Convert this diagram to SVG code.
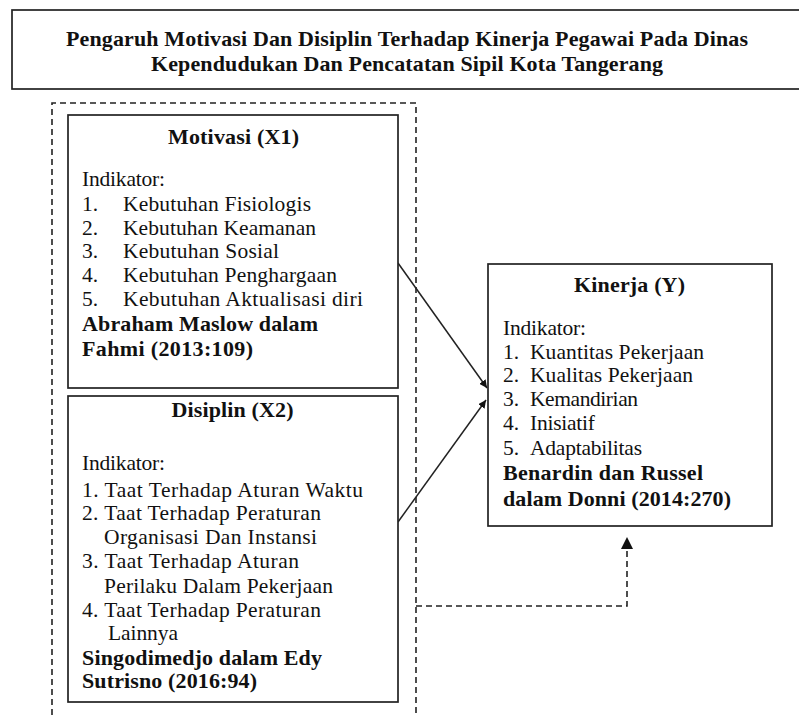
<svg xmlns="http://www.w3.org/2000/svg" width="799" height="715" viewBox="0 0 799 715">
<defs>
<style>
.box{fill:#fff;stroke:#222;stroke-width:1.7}
.dash{fill:none;stroke:#222;stroke-width:1.6;stroke-dasharray:6 4}
.ln{fill:none;stroke:#222;stroke-width:1.5}
text{font-family:'Liberation Serif','Times New Roman',serif;font-size:21.5px;fill:#111}
.b{font-weight:bold;font-size:22px}
.c{text-anchor:middle}
</style>
<marker id="ah" viewBox="0 0 10 10" refX="10" refY="5" markerWidth="8" markerHeight="8" orient="auto" markerUnits="userSpaceOnUse">
<path d="M0,0 L10,5 L0,10 z" fill="#111"/>
</marker>
</defs>
<rect width="799" height="715" fill="#fff"/>
<g id="title">
<rect class="box" x="12" y="10" width="792" height="79"/>
<text class="b c" x="407" y="46" textLength="682" lengthAdjust="spacing">Pengaruh Motivasi Dan Disiplin Terhadap Kinerja Pegawai Pada Dinas</text>
<text class="b c" x="407" y="71" textLength="512" lengthAdjust="spacing">Kependudukan Dan Pencatatan Sipil Kota Tangerang</text>
</g>
<g id="connectors">
<path class="dash" d="M52,715 V103 H416 V715"/>
<path class="dash" d="M416,606 H627 V548"/>
<path d="M621,549 L627,537 L633,549 z" fill="#111"/>
<line class="ln" x1="398" y1="263" x2="487" y2="388" marker-end="url(#ah)"/>
<line class="ln" x1="398" y1="522" x2="486" y2="400" marker-end="url(#ah)"/>
</g>
<g id="motivasi">
<rect class="box" x="68" y="115" width="330" height="273"/>
<text class="b c" x="233.5" y="144" textLength="131" lengthAdjust="spacing">Motivasi (X1)</text>
<text x="82" y="186" textLength="83" lengthAdjust="spacing">Indikator:</text>
<text x="82" y="211">1.</text><text x="123" y="211" textLength="188" lengthAdjust="spacing">Kebutuhan Fisiologis</text>
<text x="82" y="235">2.</text><text x="123" y="235" textLength="193" lengthAdjust="spacing">Kebutuhan Keamanan</text>
<text x="82" y="258">3.</text><text x="123" y="258" textLength="156" lengthAdjust="spacing">Kebutuhan Sosial</text>
<text x="82" y="282">4.</text><text x="123" y="282" textLength="214" lengthAdjust="spacing">Kebutuhan Penghargaan</text>
<text x="82" y="306">5.</text><text x="123" y="306" textLength="240" lengthAdjust="spacing">Kebutuhan Aktualisasi diri</text>
<text class="b" x="82" y="331" textLength="236" lengthAdjust="spacing">Abraham Maslow dalam</text>
<text class="b" x="82" y="356" textLength="171" lengthAdjust="spacing">Fahmi (2013:109)</text>
</g>
<g id="disiplin">
<rect class="box" x="68" y="396" width="330" height="306"/>
<text class="b c" x="232.5" y="417" textLength="122" lengthAdjust="spacing">Disiplin (X2)</text>
<text x="82" y="470" textLength="83" lengthAdjust="spacing">Indikator:</text>
<text x="82" y="497" textLength="281" lengthAdjust="spacing">1. Taat Terhadap Aturan Waktu</text>
<text x="82" y="520" textLength="239" lengthAdjust="spacing">2. Taat Terhadap Peraturan</text>
<text x="104" y="544" textLength="213" lengthAdjust="spacing">Organisasi Dan Instansi</text>
<text x="82" y="568" textLength="217" lengthAdjust="spacing">3. Taat Terhadap Aturan</text>
<text x="104" y="593" textLength="229" lengthAdjust="spacing">Perilaku Dalam Pekerjaan</text>
<text x="82" y="617" textLength="239" lengthAdjust="spacing">4. Taat Terhadap Peraturan</text>
<text x="108" y="640" textLength="70" lengthAdjust="spacing">Lainnya</text>
<text class="b" x="82" y="665" textLength="240" lengthAdjust="spacing">Singodimedjo dalam Edy</text>
<text class="b" x="82" y="688" textLength="175" lengthAdjust="spacing">Sutrisno (2016:94)</text>
</g>
<g id="kinerja">
<rect class="box" x="488" y="264" width="284" height="262"/>
<text class="b c" x="629.5" y="292" textLength="111" lengthAdjust="spacing">Kinerja (Y)</text>
<text x="503" y="335" textLength="83" lengthAdjust="spacing">Indikator:</text>
<text x="503" y="359">1.</text><text x="530" y="359" textLength="174" lengthAdjust="spacing">Kuantitas Pekerjaan</text>
<text x="503" y="382">2.</text><text x="530" y="382" textLength="163" lengthAdjust="spacing">Kualitas Pekerjaan</text>
<text x="503" y="406">3.</text><text x="530" y="406" textLength="108" lengthAdjust="spacing">Kemandirian</text>
<text x="503" y="430">4.</text><text x="530" y="430" textLength="65" lengthAdjust="spacing">Inisiatif</text>
<text x="503" y="455">5.</text><text x="530" y="455" textLength="112" lengthAdjust="spacing">Adaptabilitas</text>
<text class="b" x="503" y="480" textLength="200" lengthAdjust="spacing">Benardin dan Russel</text>
<text class="b" x="503" y="506" textLength="228" lengthAdjust="spacing">dalam Donni (2014:270)</text>
</g>
</svg>
